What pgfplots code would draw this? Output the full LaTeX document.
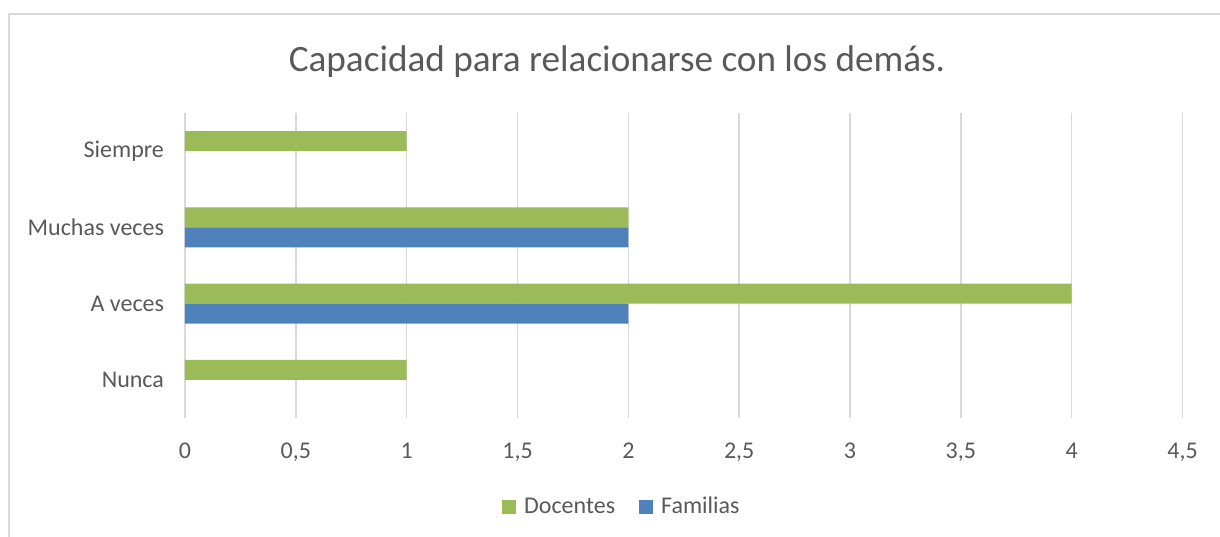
\documentclass[border=0pt]{standalone}
\usepackage{pgfplots}
\pgfplotsset{compat=1.18}
\usepackage{fontspec}
\setmainfont{Carlito}
\definecolor{docgreen}{HTML}{9BBB59}
\definecolor{famblue}{HTML}{4F81BD}
\definecolor{gridgray}{HTML}{D9D9D9}
\definecolor{txtgray}{HTML}{595959}
\begin{document}
\begin{tikzpicture}
\path[use as bounding box] (0pt,0pt) rectangle (610pt,268pt);
\draw[gridgray, line width=0.8pt] (4.5pt,-3pt) -- (4.5pt,261pt) -- (615pt,261pt);
\node[txtgray, font=\fontsize{18.6}{22}\selectfont] at (308.5pt,237pt) {Capacidad para relacionarse con los demás.};
\begin{axis}[
  at={(92.5pt,59pt)}, anchor=south west,
  scale only axis, width=498.75pt, height=152.5pt,
  xmin=0, xmax=4.5, ymin=-0.5, ymax=3.5,
  xtick={0,0.5,...,4.5},
  ytick={0,1,2,3},
  yticklabels={Nunca, A veces, Muchas veces, Siempre},
  axis line style={draw=none},
  major tick length=0pt,
  xmajorgrids, major grid style={gridgray, line width=0.7pt},
  /pgf/number format/use comma,
  /pgf/number format/assume math mode=true,
  tick label style={txtgray, font=\fontsize{12}{14}\selectfont},
  yticklabel style={xshift=-7pt},
  xticklabel style={yshift=-9pt},
  xbar, bar width=10pt,
  legend style={at={(0.439,-0.292)}, anchor=center, draw=none, legend columns=2,
    font=\fontsize{12}{14}\selectfont, text=txtgray,
    /tikz/every odd column/.append style={column sep=2.2pt},
    /tikz/every even column/.append style={column sep=10pt}},
  legend image code/.code={\fill[#1] (0pt,-3.4pt) rectangle (6.8pt,3.4pt);},
]
\addplot[draw=none, fill=docgreen, bar shift=5pt] coordinates {(1,0) (4,1) (2,2) (1,3)};
\addlegendentry{Docentes}
\addplot[draw=none, fill=famblue, bar shift=-5pt] coordinates {(2,1) (2,2)};
\addlegendentry{Familias}
\end{axis}
\end{tikzpicture}
\end{document}
